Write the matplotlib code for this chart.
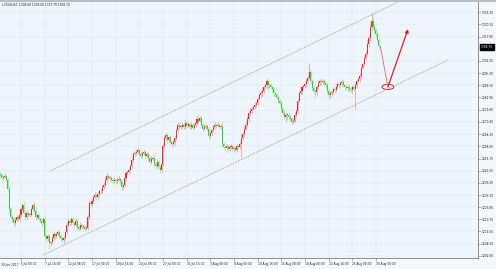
import matplotlib
matplotlib.use("Agg")
import matplotlib.pyplot as plt
import matplotlib.transforms as mtransforms
from matplotlib.patches import Ellipse, Rectangle
import numpy as np
import pandas as pd

# ── GOLD H4 closes, 30 Jun 16:00 .. 30 Aug 12:00 (six bars a day) ──
first_open = 1244.0
closes = [
    1243.5, 1242.0,                                  # 30 Jun
    1242.5, 1243.0, 1241.0, 1236.0, 1226.0, 1222.0,  # 3 Jul
    1221.0, 1219.0, 1220.5, 1222.0, 1221.0, 1223.0,
    1226.0, 1228.0, 1224.0, 1222.0, 1224.0, 1223.0,
    1223.0, 1226.0, 1228.0, 1225.0, 1222.0, 1223.0,
    1221.0, 1220.0, 1219.0, 1221.0, 1212.0, 1210.5,  # 7 Jul
    1212.0, 1208.5, 1209.0, 1211.0, 1213.0, 1212.0,  # 10 Jul
    1213.0, 1214.0, 1212.0, 1211.0, 1210.0, 1211.0,
    1214.0, 1218.0, 1220.0, 1219.0, 1221.0, 1219.0,
    1218.0, 1220.0, 1217.0, 1216.0, 1218.0, 1217.0,
    1217.0, 1216.0, 1216.5, 1222.0, 1229.0, 1228.5,  # 14 Jul
    1230.0, 1232.0, 1233.0, 1232.0, 1233.5, 1235.0,  # 17 Jul
    1235.0, 1237.0, 1238.0, 1241.0, 1243.0, 1242.0,
    1242.0, 1241.0, 1240.0, 1241.0, 1240.0, 1241.0,
    1241.5, 1240.0, 1237.0, 1238.0, 1242.0, 1244.5,
    1245.0, 1246.0, 1248.0, 1251.0, 1254.0, 1254.5,  # 21 Jul
    1255.0, 1256.0, 1254.0, 1253.0, 1254.5, 1255.0,  # 24 Jul
    1253.0, 1254.0, 1252.0, 1250.0, 1251.5, 1252.0,
    1249.0, 1248.0, 1250.0, 1247.5, 1246.0, 1249.0,
    1258.0, 1262.0, 1263.5, 1261.0, 1262.5, 1260.0,
    1259.0, 1260.0, 1262.0, 1266.0, 1269.0, 1268.0,  # 28 Jul
    1268.0, 1269.0, 1268.0, 1270.0, 1268.5, 1269.5,  # 31 Jul
    1268.0, 1269.0, 1267.5, 1269.0, 1270.0, 1272.0,
    1271.0, 1272.5, 1269.0, 1267.0, 1268.0, 1268.5,
    1267.0, 1263.0, 1264.5, 1266.0, 1268.0, 1269.0,
    1268.5, 1269.0, 1268.0, 1268.5, 1259.0, 1257.5,  # 4 Aug
    1257.0, 1258.0, 1256.5, 1257.5, 1258.0, 1256.5,  # 7 Aug
    1257.0, 1256.0, 1258.0, 1257.5, 1259.0, 1262.0,
    1264.0, 1267.0, 1269.0, 1272.0, 1275.0, 1276.0,
    1277.0, 1278.0, 1279.0, 1280.0, 1282.0, 1284.0,
    1285.0, 1286.0, 1288.0, 1289.0, 1291.0, 1289.0,  # 11 Aug
    1289.0, 1288.0, 1287.0, 1285.0, 1284.0, 1283.0,  # 14 Aug
    1281.0, 1280.0, 1277.0, 1275.0, 1273.0, 1274.0,
    1274.0, 1273.0, 1272.0, 1270.5, 1271.0, 1274.0,
    1276.0, 1281.0, 1285.0, 1286.0, 1288.0, 1288.5,
    1289.5, 1291.0, 1293.0, 1296.0, 1291.0, 1287.5,  # 18 Aug
    1286.0, 1285.5, 1288.0, 1290.0, 1291.0, 1290.5,  # 21 Aug
    1291.0, 1290.0, 1289.0, 1286.0, 1284.0, 1285.0,
    1285.5, 1287.0, 1286.5, 1288.0, 1289.5, 1289.0,
    1290.0, 1290.5, 1289.0, 1288.0, 1287.5, 1288.0,
    1287.0, 1286.5, 1288.0, 1287.0, 1289.0, 1291.0,  # 25 Aug
    1292.0, 1294.0, 1298.0, 1300.0, 1303.0, 1305.0,  # 28 Aug
    1310.0, 1313.0, 1318.5, 1322.0, 1319.0, 1317.0,
    1315.0, 1312.0, 1309.0, 1308.7,                  # 30 Aug
]

upper_wick = [
    0.8, 1.0,
    1.0, 1.2, 0.8, 1.0, 1.5, 1.0,
    1.0, 0.8, 1.2, 1.0, 0.8, 1.5,
    1.2, 1.0, 1.5, 0.8, 1.0, 0.8,
    0.8, 1.2, 1.0, 1.5, 0.8, 1.0,
    1.0, 0.8, 1.2, 1.0, 1.5, 1.0,
    1.2, 1.0, 0.8, 1.0, 1.2, 0.8,
    1.0, 1.5, 0.8, 1.0, 1.2, 1.0,
    1.0, 1.2, 1.5, 1.0, 0.8, 1.2,
    1.0, 1.2, 0.8, 1.0, 1.5, 1.0,
    0.8, 1.0, 1.2, 1.5, 1.8, 1.0,
    1.2, 1.0, 1.5, 0.8, 1.0, 1.2,
    1.0, 1.2, 1.0, 1.5, 1.2, 0.8,
    1.0, 1.2, 0.8, 1.5, 1.0, 1.0,
    1.2, 1.0, 0.8, 1.2, 1.5, 1.0,
    1.0, 1.2, 1.0, 1.5, 1.2, 1.0,
    1.5, 1.0, 0.8, 1.2, 1.0, 1.2,
    1.0, 1.2, 0.8, 1.0, 1.5, 1.0,
    1.2, 1.0, 1.5, 0.8, 1.0, 1.2,
    1.5, 1.2, 1.0, 1.2, 0.8, 1.0,
    1.0, 1.2, 1.0, 1.5, 1.2, 1.0,
    1.2, 1.5, 1.0, 1.2, 0.8, 1.0,
    1.0, 1.2, 0.8, 1.0, 1.2, 1.5,
    1.2, 1.0, 0.8, 1.0, 1.2, 1.0,
    1.0, 0.8, 1.2, 1.0, 1.5, 1.2,
    1.0, 1.2, 0.8, 1.0, 2.5, 1.0,
    1.2, 1.0, 0.8, 1.2, 1.0, 0.8,
    1.0, 1.2, 1.0, 0.8, 1.2, 2.0,
    1.2, 1.0, 1.5, 1.2, 1.0, 1.5,
    1.2, 1.0, 1.5, 1.2, 1.0, 1.2,
    1.0, 1.5, 1.2, 1.0, 1.0, 1.5,
    1.0, 1.2, 0.8, 1.0, 1.2, 1.0,
    1.2, 1.0, 0.8, 1.0, 1.2, 1.0,
    1.0, 1.2, 0.8, 1.0, 1.5, 1.2,
    1.0, 1.5, 1.2, 1.0, 1.2, 1.0,
    1.2, 1.0, 1.5, 4.5, 1.0, 1.2,
    1.0, 1.2, 1.0, 1.5, 1.0, 1.2,
    1.2, 1.0, 0.8, 1.0, 1.2, 1.0,
    1.0, 1.2, 1.0, 1.5, 1.0, 0.8,
    1.2, 1.5, 1.0, 0.8, 1.0, 1.2,
    1.0, 1.2, 1.0, 0.8, 1.5, 1.2,
    1.0, 1.2, 1.5, 1.0, 1.2, 1.5,
    2.0, 1.5, 2.0, 4.0, 2.0, 1.5,
    1.0, 1.2, 1.0, 0.6,
]

lower_wick = [
    1.0, 0.8,
    1.0, 0.8, 1.2, 1.0, 1.5, 1.2,
    1.5, 2.0, 1.0, 0.8, 1.2, 1.0,
    1.0, 1.2, 0.8, 1.5, 1.0, 1.2,
    1.0, 0.8, 1.2, 1.0, 1.5, 1.0,
    1.2, 1.0, 1.5, 0.8, 1.5, 1.2,
    1.0, 3.0, 1.2, 1.0, 0.8, 1.2,
    1.0, 0.8, 1.2, 1.5, 1.0, 1.2,
    1.0, 0.8, 1.2, 1.5, 1.0, 1.2,
    1.2, 1.0, 1.5, 1.0, 0.8, 1.2,
    1.0, 1.2, 0.8, 1.0, 1.2, 1.5,
    1.0, 1.2, 0.8, 1.5, 1.0, 1.2,
    1.2, 1.0, 0.8, 1.0, 1.2, 1.5,
    1.0, 1.5, 1.2, 0.8, 1.0, 1.2,
    1.0, 1.2, 1.5, 1.0, 0.8, 1.0,
    1.2, 1.0, 0.8, 1.0, 1.2, 1.0,
    1.0, 1.2, 1.5, 1.0, 0.8, 1.2,
    1.2, 1.0, 1.5, 1.2, 1.0, 0.8,
    1.0, 1.5, 1.0, 1.2, 1.5, 1.0,
    1.0, 1.2, 0.8, 1.5, 1.0, 1.2,
    1.5, 1.0, 1.2, 0.8, 1.0, 1.2,
    1.0, 1.2, 1.5, 1.0, 1.2, 0.8,
    1.2, 1.0, 1.5, 0.8, 1.0, 1.2,
    1.0, 0.8, 1.2, 1.5, 1.0, 1.2,
    1.2, 1.5, 1.0, 1.2, 0.8, 1.0,
    1.0, 0.8, 1.2, 1.0, 1.5, 1.2,
    1.0, 1.2, 1.5, 1.0, 0.8, 1.2,
    1.2, 1.0, 0.8, 1.2, 1.0, 6.5,
    1.0, 1.2, 0.8, 1.0, 1.2, 1.0,
    1.0, 0.8, 1.2, 1.0, 1.2, 0.8,
    1.0, 1.2, 0.8, 1.0, 1.2, 2.5,
    1.2, 1.0, 1.5, 1.2, 1.0, 1.2,
    1.0, 1.2, 1.5, 1.0, 1.2, 2.5,
    2.0, 1.2, 1.0, 1.5, 1.0, 1.2,
    1.0, 1.2, 0.8, 1.0, 1.2, 1.0,
    1.0, 1.2, 0.8, 1.0, 1.5, 1.2,
    1.5, 3.0, 1.2, 1.0, 0.8, 1.2,
    1.0, 1.2, 1.5, 1.2, 2.0, 1.5,
    1.2, 1.0, 1.5, 0.8, 1.0, 1.2,
    1.0, 1.2, 0.8, 1.5, 1.0, 1.2,
    1.2, 1.0, 1.5, 1.0, 10.0, 1.2,
    1.0, 1.2, 1.0, 0.8, 1.2, 1.0,
    1.0, 1.5, 1.2, 1.0, 1.5, 1.2,
    1.2, 1.0, 1.5, 0.8,
]

price_ticks = [1202.00, 1208.20, 1214.50, 1220.70, 1226.90, 1233.10, 1239.30,
               1245.50, 1251.70, 1258.00, 1264.20, 1270.40, 1276.60, 1282.90,
               1289.10, 1295.30, 1301.50, 1313.90, 1320.10, 1326.30]

time_ticks = ["2017-07-05 00:00", "2017-07-07 16:00", "2017-07-12 08:00",
              "2017-07-17 00:00", "2017-07-19 16:00", "2017-07-24 08:00",
              "2017-07-27 00:00", "2017-07-31 16:00", "2017-08-03 08:00",
              "2017-08-08 00:00", "2017-08-10 16:00", "2017-08-15 08:00",
              "2017-08-18 00:00", "2017-08-22 16:00", "2017-08-25 08:00",
              "2017-08-30 00:00"]
first_label = "30 Jun 2017"
header = "\u25be GOLD,H4  1308.68 1309.06 1307.79 1308.74"

# hand-drawn channel and forecast (bar index, price)
channel_lower = [(28.9, 1202.5), (302.7, 1301.9)]
channel_upper = [(33.6, 1245.3), (302.7, 1343.9)]
forecast_x = [257, 262.1, 275.7]
forecast_y = [1308.7, 1288.2, 1317.7]

# ── bar times ──
times = [pd.Timestamp("2017-06-30 16:00"), pd.Timestamp("2017-06-30 20:00")]
for d in pd.bdate_range("2017-07-03", "2017-08-29"):
    times += [d + pd.Timedelta(hours=h) for h in range(0, 24, 4)]
times += [pd.Timestamp("2017-08-30") + pd.Timedelta(hours=h) for h in range(0, 16, 4)]
times = pd.DatetimeIndex(times)

c = np.array(closes)
o = np.concatenate([[first_open], c[:-1]])
hi = np.maximum(o, c) + np.array(upper_wick)
lo = np.minimum(o, c) - np.array(lower_wick)
idx = np.arange(len(c))
up = c >= o
cols = np.where(up, "#f52a2a", "#2fd42f")

fig = plt.figure(figsize=(4.96, 2.69), dpi=100, facecolor="#f4f8fc")
ax = fig.add_axes([0, 11 / 269, 478 / 496, 256 / 269], facecolor="#eef5fc")

ax.vlines(idx, lo, hi, colors=cols, lw=0.45, alpha=0.55)
ax.bar(idx, np.maximum(np.abs(c - o), 0.35), bottom=np.minimum(o, c),
       width=0.7, color=cols, linewidth=0)

for line in (channel_lower, channel_upper):
    xs, ys = zip(*line)
    ax.plot(xs, ys, color="#8d939b", lw=0.55, linestyle=(0, (1.2, 1.2)))

ax.plot(forecast_x[:2], forecast_y[:2], color="#f07a7a", lw=0.7)
ax.annotate("", xy=(forecast_x[2], forecast_y[2]), xytext=(forecast_x[1], forecast_y[1]),
            arrowprops=dict(arrowstyle="-|>", color="#e81e1e", lw=0.9,
                            mutation_scale=5, shrinkA=0, shrinkB=0))
ax.add_patch(Ellipse((forecast_x[1], forecast_y[1]), width=8, height=2.6,
                     fill=False, edgecolor="#e81e1e", lw=0.7))

ax.set_xlim(-0.2, 323.0)
ax.set_ylim(1200.98, 1331.5)

# ── axes ──
tick_pos = [times.get_loc(pd.Timestamp(t)) for t in time_ticks]
tick_lab = [f"{times[p].day} {times[p]:%b %H:%M}" for p in tick_pos]
ax.set_xticks(tick_pos)
ax.set_xticklabels(tick_lab, fontsize=2.1, ha="left", color="#222222")
ax.set_yticks(price_ticks)
ax.set_yticklabels([f"{v:.2f}" for v in price_ticks], fontsize=2.1, color="#222222")
ax.yaxis.tick_right()
ax.tick_params(axis="both", length=1.8, width=0.4, color="#777777", pad=1)
ax.grid(True, color="#d3deea", lw=0.35, linestyle=(0, (1, 1)))
ax.set_axisbelow(True)
for s in ("left", "top"):
    ax.spines[s].set_visible(False)
for s in ("right", "bottom"):
    ax.spines[s].set_color("#7d7d7d")
    ax.spines[s].set_linewidth(0.6)

ax.text(0.002, -0.02, first_label, transform=ax.transAxes, fontsize=2.1,
        color="#222222", va="top", ha="left")
ax.text(0.004, 0.995, header, transform=ax.transAxes, fontsize=2.1,
        color="#222222", va="top", ha="left")

trans = mtransforms.blended_transform_factory(ax.transAxes, ax.transData)
ax.text(1.006, c[-1], f"{c[-1]:.2f}", transform=trans, fontsize=2.1,
        color="white", va="center", ha="left",
        bbox=dict(facecolor="black", edgecolor="black", pad=0.6))

fig.add_artist(Rectangle((0, 267 / 269), 1, 2 / 269, transform=fig.transFigure,
                         facecolor="#b9bec5", edgecolor="none"))

fig.savefig("out.png", dpi=100, facecolor=fig.get_facecolor())
